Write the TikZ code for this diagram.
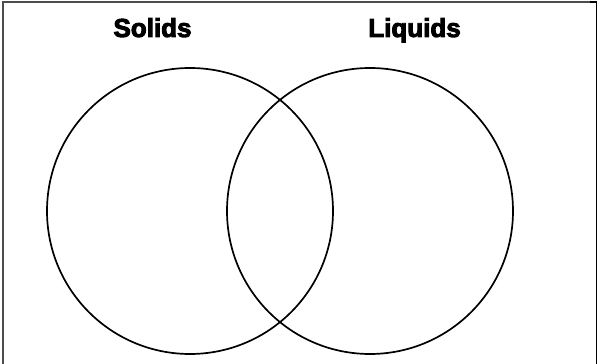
\documentclass[tikz,border=0pt]{standalone}
\usepackage{fontspec}
\setmainfont{Liberation Sans}[BoldFeatures={FakeBold=3.5}]
\usetikzlibrary{positioning}

\begin{document}
\begin{tikzpicture}[x=1pt, y=1pt,
    set/.style={circle, draw, line width=1.7pt, minimum size=286pt, inner sep=0pt},
    title/.style={font=\fontsize{26}{26}\selectfont\bfseries, anchor=base}]
    \useasboundingbox (0,0) rectangle (598,364);
    % frame, open at the bottom
    \draw[line width=2pt, black!70] (3,0) -- (3,362) -- (590,362);
    \draw[line width=1.4pt] (590,362) -- (596.5,362) -- (596.5,0);
    % the two sets
    \node[set] (solids) at (190,153) {};
    \node[set] (liquids) at (370,153) {};
    \node[title] (solidsLabel) at (152.5,327) {Solids};
    \node[title] (liquidsLabel) at (414.5,327) {Liquids};
\end{tikzpicture}
\end{document}
